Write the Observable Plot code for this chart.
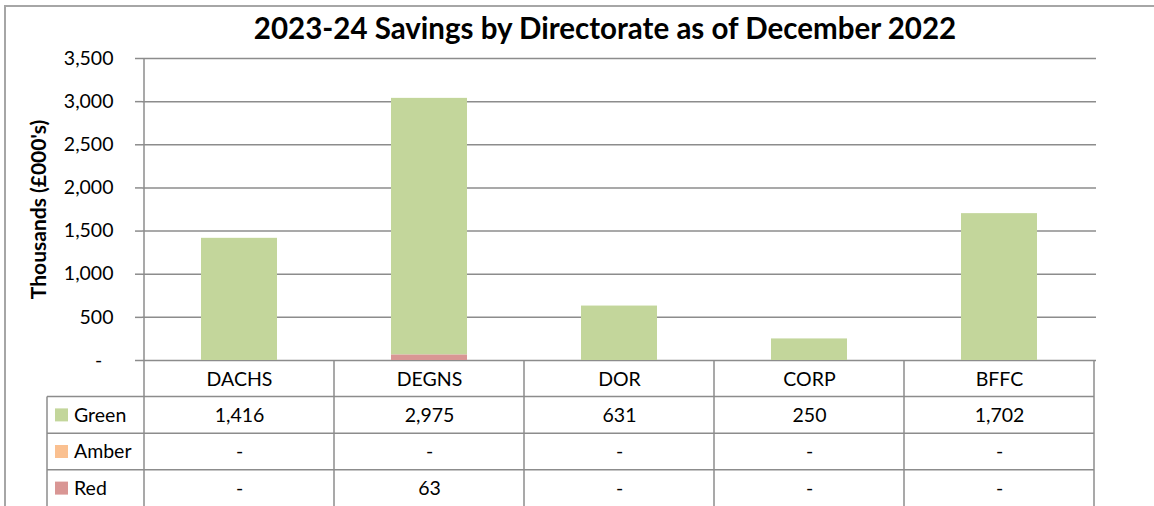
<!DOCTYPE html>
<html><head><meta charset="utf-8">
<script src="https://cdn.jsdelivr.net/npm/d3@7"></script>
<script src="https://cdn.jsdelivr.net/npm/@observablehq/plot@0.6"></script>
<style>
body{margin:0;background:#fff;}
#wrap{position:relative;width:1154px;height:506px;overflow:hidden;font-family:Lato,"Open Sans",sans-serif;}
#title{position:absolute;left:0;width:1210px;top:13px;line-height:29px;text-align:center;font-weight:bold;font-size:29.5px;color:#000;white-space:nowrap;}
#frame{position:absolute;left:4px;top:5px;width:1300px;height:700px;border-left:2px solid #a6a6a6;border-top:2px solid #a6a6a6;pointer-events:none;}
svg{position:absolute;left:0;top:0;}
</style></head><body>
<div id="wrap"><div id="title">2023-24 Savings by Directorate as of December 2022</div></div>
<script>
const categories = ["DACHS","DEGNS","DOR","CORP","BFFC"];
const seriesNames = ["Green","Amber","Red"];
const green = [1416,2975,631,250,1702];
const amber = [0,0,0,0,0];
const red = [0,63,0,0,0];
const seriesColors = ["#C3D69B","#FAC090","#D99694"];
const yTicks = [0,500,1000,1500,2000,2500,3000,3500];
const yLabel = "Thousands (£000's)";

const seriesValues = {Green: green, Amber: amber, Red: red};
const rows = [];
for (const s of seriesNames) categories.forEach((c, i) => rows.push({category: c, series: s, value: seriesValues[s][i]}));

const fmt = v => v === 0 ? "-" : d3.format(",")(v);
const gray = "#8c8c8c";
const font = "Lato, 'Open Sans', sans-serif";
const rowH = 36.6;

const rowMarks = seriesNames.map((s, k) =>
  Plot.text(rows.filter(d => d.series === s), {
    x: "category", text: d => fmt(d.value), frameAnchor: "bottom", lineAnchor: "middle",
    dy: rowH * (k + 1) + rowH / 2, fontSize: 19.5, fill: "#000"
  })
);

const chart = Plot.plot({
  width: 1154, height: 506,
  marginLeft: 142, marginRight: 58, marginTop: 58, marginBottom: 146,
  style: {fontFamily: font, fontSize: "19.5px", background: "transparent", overflow: "visible"},
  x: {domain: categories, paddingInner: 0.6, paddingOuter: 0.3},
  y: {domain: [0, 3500]},
  color: {domain: seriesNames, range: seriesColors},
  marks: [
    Plot.gridY(yTicks, {stroke: gray, strokeOpacity: 1, strokeWidth: 1.5}),
    Plot.axisY(yTicks, {tickSize: 7, tickPadding: 22, stroke: gray, strokeWidth: 1.5, label: null,
      tickFormat: d => d === 0 ? "-\u2007" : d3.format(",")(d), fontSize: 19.5, fill: "#000"}),
    Plot.barY(rows, {x: "category", y: "value", fill: "series", order: ["Red","Amber","Green"]}),
    Plot.axisX({tickSize: 0, tickPadding: 12, label: null, fontSize: 19.5, fill: "#000"}),
    ...rowMarks,
    Plot.text([yLabel], {frameAnchor: "left", textAnchor: "middle", lineAnchor: "middle", rotate: -90, dx: -103,
      fontWeight: "bold", fontSize: 21, fill: "#000"})
  ]
});

const wrap = document.getElementById("wrap");
wrap.appendChild(chart);

// table grid and legend drawn with the chart's own scales
const x = chart.scale("x"), y = chart.scale("y"), color = chart.scale("color");
const svg = d3.select(chart);
const g = svg.append("g").attr("stroke", gray).attr("stroke-width", 1.5);
const y0 = y.apply(0);
const step = x.step, bw = x.bandwidth;
const bounds = categories.map(c => x.apply(c) + bw / 2 - step / 2);
bounds.push(x.apply(categories[categories.length - 1]) + bw / 2 + step / 2);
const left = bounds[0], right = bounds[bounds.length - 1];
const legendLeft = left - 97;
const bottom = 506;
bounds.forEach((b, i) => g.append("line").attr("x1", b).attr("x2", b)
  .attr("y1", i === 0 ? y.apply(3500) : y0).attr("y2", bottom));
g.append("line").attr("x1", legendLeft).attr("x2", legendLeft).attr("y1", y0 + rowH).attr("y2", bottom);
for (let k = 1; k <= 3; k++) {
  g.append("line").attr("x1", legendLeft).attr("x2", right).attr("y1", y0 + rowH * k).attr("y2", y0 + rowH * k);
}
const lg = svg.append("g").attr("font-family", font).attr("font-size", 19.5).attr("text-anchor", "start");
seriesNames.forEach((s, k) => {
  const cy = y0 + rowH * (k + 1) + rowH / 2;
  lg.append("rect").attr("x", legendLeft + 8).attr("y", cy - 6.5).attr("width", 13).attr("height", 13).attr("fill", color.apply(s));
  lg.append("text").attr("x", legendLeft + 27).attr("y", cy).attr("dy", "0.35em").attr("fill", "#000").text(s);
});

const frame = document.createElement("div");
frame.id = "frame";
wrap.appendChild(frame);
</script>
</body></html>
